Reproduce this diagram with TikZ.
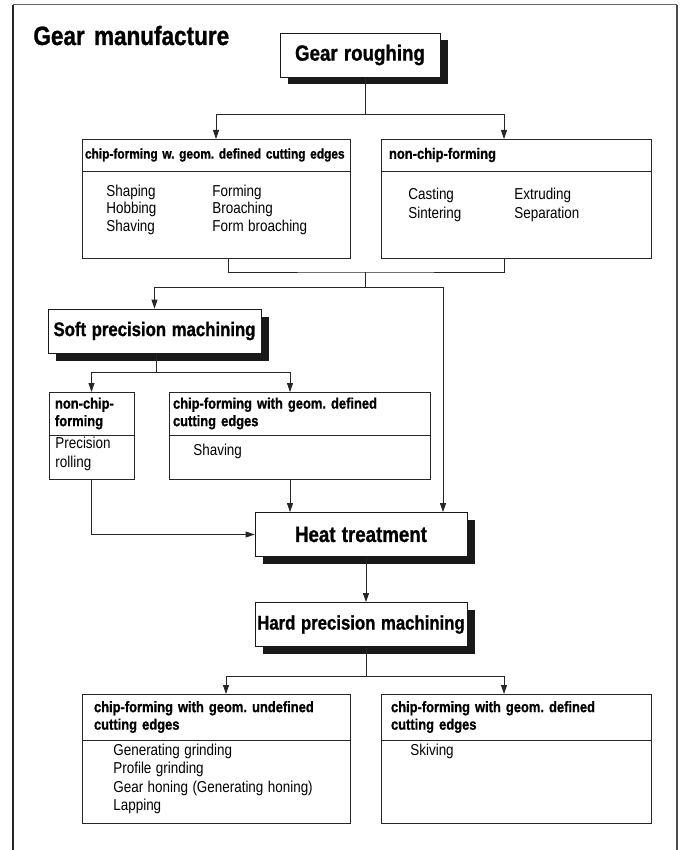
\documentclass[tikz,border=0pt]{standalone}
\usepackage{fontspec}
\setmainfont{Liberation Sans}[FakeStretch=0.85, WordSpace=1.2, BoldFeatures={FakeBold=1}]
\usetikzlibrary{shadows,arrows.meta}
\frenchspacing

\newcommand{\titlefont}{\fontsize{26.5}{28}\selectfont\bfseries}
\newcommand{\stagefont}{\fontsize{22}{24}\selectfont\bfseries}
\newcommand{\longstagefont}{\fontsize{19.7}{22}\selectfont\bfseries}
\newcommand{\headfont}{\fontsize{15.2}{17.5}\selectfont\bfseries}
\newcommand{\bodyfont}{\fontsize{15.8}{18.5}\selectfont}

\begin{document}
\begin{tikzpicture}[x=1pt, y=-1pt, line width=0.8pt,
    stage/.style={draw=black!90, fill=white, minimum height=44pt, inner sep=0pt, font=\stagefont,
        drop shadow={shadow xshift=7.5pt, shadow yshift=-7.5pt, fill=black!90, opacity=1}},
    head/.style={draw=black!85, anchor=north west, minimum height=#1, inner ysep=0pt, outer sep=0pt, align=left, font=\headfont},
    body/.style={draw=black!85, anchor=north west, inner sep=0pt, outer sep=0pt},
    items/.style={anchor=north west, inner sep=0pt, align=left, font=\bodyfont},
    conn/.style={draw=black!85},
    arr/.style={conn, -{Triangle[length=9pt, width=6pt]}}]
\useasboundingbox (0,0) rectangle (682,850);
%frame
    \draw[black!60, line width=1pt] (13,5) -- (677,5);
    \draw[black!85, line width=1.3pt] (13,5) -- (13,850);
    \draw[black!70, line width=2pt] (677,5) -- (677,850);
%title
    \node[anchor=base west, inner sep=0pt, font=\titlefont] (title) at (33,45) {Gear\hspace{0.35em}manufacture};
%stages
    \node[stage, minimum width=160pt] (rough) at (360,55) {Gear roughing};
    \node[stage, minimum width=213pt, font=\longstagefont] (soft) at (154.5,331) {Soft precision machining};
    \node[stage, minimum width=212pt] (heat) at (361,534.5) {Heat treatment};
    \node[stage, minimum width=212pt, font=\longstagefont] (hard) at (361,624.5) {Hard precision machining};
%boxes after roughing
    \node[head=32pt, inner xsep=3pt, text width=262pt, font=\fontsize{14}{17}\selectfont\bfseries] (chipAh) at (82,139) {chip-forming w. geom. defined cutting edges};
    \node[body, minimum width=268pt, minimum height=87pt] (chipAb) at (chipAh.south west) {};
    \node[head=32pt, inner xsep=8pt, text width=254pt] (nonAh) at (381,139) {non-chip-forming};
    \node[body, minimum width=270pt, minimum height=87pt] (nonAb) at (nonAh.south west) {};
%boxes after soft machining
    \node[head=43pt, inner xsep=6pt, text width=73pt] (nonBh) at (49,392) {non-chip-\\forming};
    \node[body, minimum width=85pt, minimum height=44pt] (nonBb) at (nonBh.south west) {};
    \node[head=43pt, inner xsep=4pt, text width=253pt] (chipBh) at (169,392) {chip-forming with geom. defined\\cutting edges};
    \node[body, minimum width=261pt, minimum height=44pt] (chipBb) at (chipBh.south west) {};
%boxes after hard machining
    \node[head=46pt, inner xsep=12pt, text width=244pt] (chipCh) at (82,694) {chip-forming with geom. undefined\\cutting edges};
    \node[body, minimum width=268pt, minimum height=83pt] (chipCb) at (chipCh.south west) {};
    \node[head=46pt, inner xsep=10pt, text width=250pt] (chipDh) at (381,694) {chip-forming with geom. defined\\cutting edges};
    \node[body, minimum width=270pt, minimum height=83pt] (chipDb) at (chipDh.south west) {};
%items
    \node[items, font=\fontsize{15.8}{17.4}\selectfont] (chipAl) at (106,184.5) {Shaping\\Hobbing\\Shaving};
    \node[items, font=\fontsize{15.8}{17.4}\selectfont] (chipAr) at (212,184.5) {Forming\\Broaching\\Form broaching};
    \node[items, font=\fontsize{15.8}{19}\selectfont] (nonAl) at (408,187.5) {Casting\\Sintering};
    \node[items, font=\fontsize{15.8}{19}\selectfont] (nonAr) at (514,187.5) {Extruding\\Separation};
    \node[items, font=\fontsize{15.8}{19}\selectfont] (nonBl) at (55,436.5) {Precision\\rolling};
    \node[items] (chipBl) at (193,443.5) {Shaving};
    \node[items] (chipCl) at (113,743.5) {Generating grinding\\Profile grinding\\Gear honing (Generating honing)\\Lapping};
    \node[items] (chipDl) at (410,743.5) {Skiving};
%coordinate
    \coordinate (j1) at (365,114); \coordinate (j2) at (365,272);
    \coordinate (j3) at (365,287); \coordinate (j4) at (443,287);
    \coordinate (j5) at (156,372); \coordinate (j6) at (366,676);
%connectors
    \draw[conn] (rough.south -| j1) -- (j1);
    \draw[arr] (j1) -| (chipAh.north);
    \draw[arr] (j1) -| ([xshift=-12pt]nonAh.north);
    \draw[conn] ([xshift=12pt]chipAb.south) |- (j2) -| ([xshift=-12pt]nonAb.south);
    \draw[conn] (j2) -- (j3) -- (j4);
    \draw[arr] (j3) -| (soft.north);
    \draw[arr] (j4) -- (j4 |- heat.north);
    \draw[conn] (soft.south -| j5) -- (j5);
    \draw[arr] (j5) -| (nonBh.north);
    \draw[arr] (j5) -| ([xshift=-9.5pt]chipBh.north);
    \draw[arr] (nonBb.south) |- (heat.west);
    \draw[arr] ([xshift=-9.5pt]chipBb.south) -- ([xshift=-9.5pt]chipBb.south |- heat.north);
    \draw[arr] (heat.south -| j6) -- (hard.north -| j6);
    \draw[conn] (hard.south -| j6) -- (j6);
    \draw[arr] (j6) -| ([xshift=10pt]chipCh.north);
    \draw[arr] (j6) -| ([xshift=-12pt]chipDh.north);
\end{tikzpicture}
\end{document}
